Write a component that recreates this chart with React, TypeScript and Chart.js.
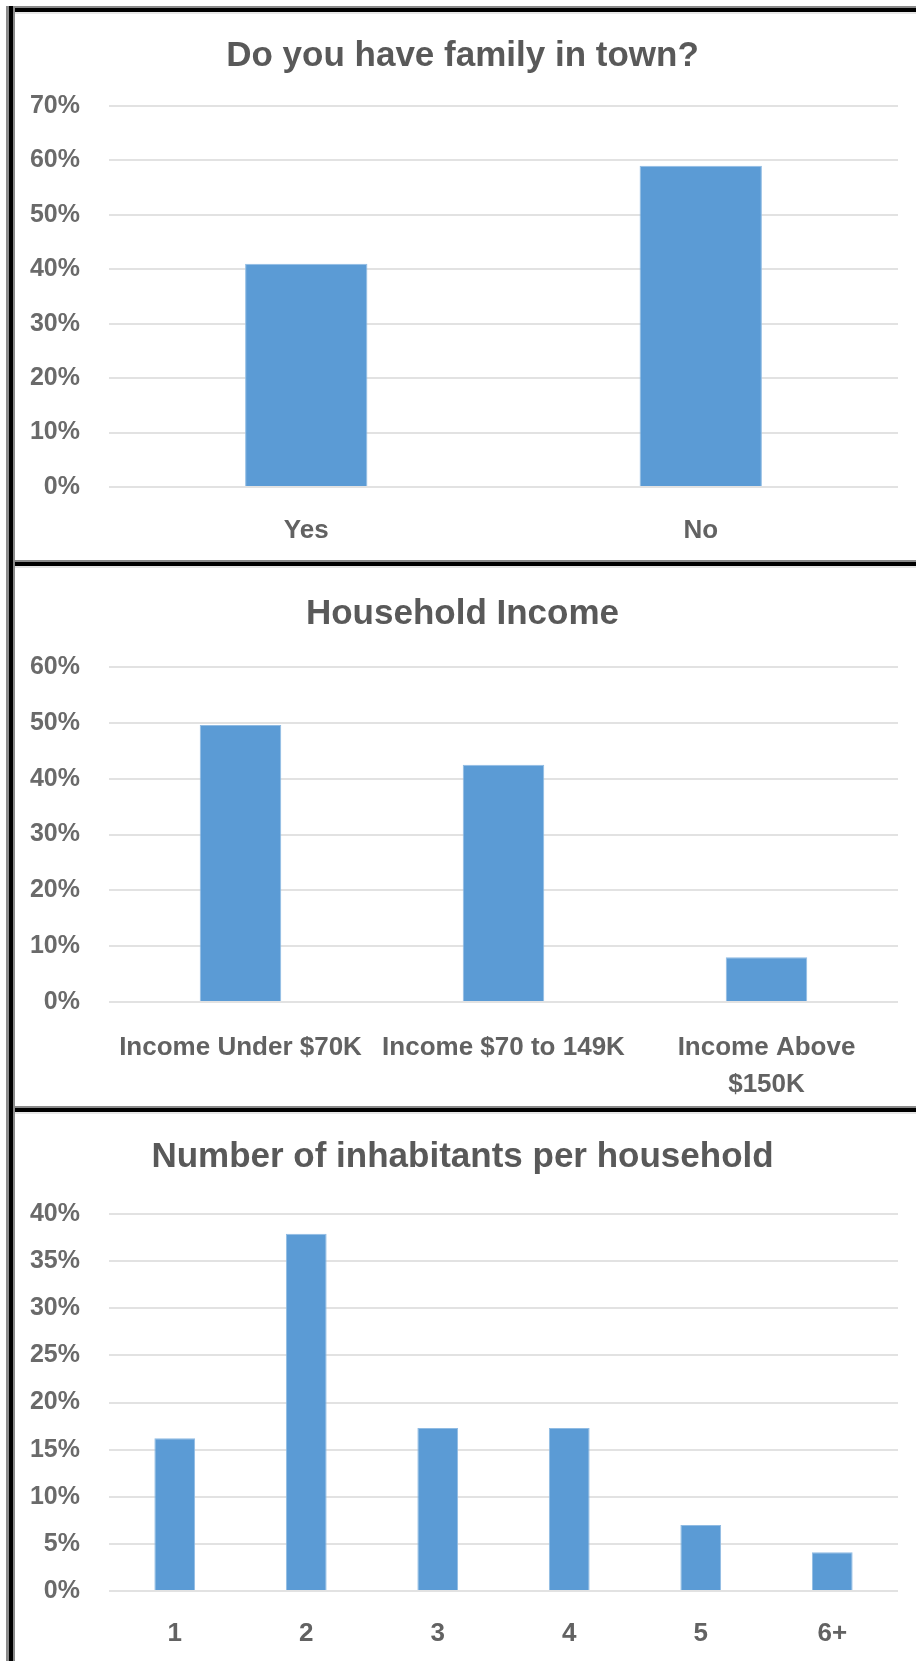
import React, { useEffect, useRef } from "react";
import { Chart, registerables } from "chart.js";

Chart.register(...registerables);

const FONT = "'Liberation Sans', Arial, sans-serif";

// Panel 1
const familyTitle = "Do you have family in town?";
const familyCategories = ["Yes", "No"];
const familyValues = [41, 59];
const familyTicks = [0, 10, 20, 30, 40, 50, 60, 70];

// Panel 2
const incomeTitle = "Household Income";
const incomeCategories: (string | string[])[] = [
  "Income Under $70K",
  "Income $70 to 149K",
  ["Income Above", "$150K"],
];
const incomeValues = [49.6, 42.5, 8];
const incomeTicks = [0, 10, 20, 30, 40, 50, 60];

// Panel 3
const inhabitantsTitle = "Number of inhabitants per household";
const inhabitantsCategories = ["1", "2", "3", "4", "5", "6+"];
const inhabitantsValues = [16.2, 37.9, 17.3, 17.3, 7.0, 4.1];
const inhabitantsTicks = [0, 5, 10, 15, 20, 25, 30, 35, 40];

type PanelProps = {
  title: string;
  labels: (string | string[])[];
  values: number[];
  ticks: number[];
  top: number;
  height: number;
  titlePadTop: number;
  titlePadBottom: number;
  xPad: number;
  xHeight: number;
};

const CANVAS_W = 901;

function BarPanel(props: PanelProps) {
  const ref = useRef<HTMLCanvasElement>(null);
  useEffect(() => {
    const ticks = props.ticks;
    const chart = new Chart(ref.current as HTMLCanvasElement, {
      type: "bar",
      data: {
        labels: props.labels,
        datasets: [
          {
            data: props.values,
            backgroundColor: "#5b9bd5",
            borderColor: "#8fbbe3",
            borderWidth: 1,
            barPercentage: 0.31,
            categoryPercentage: 1,
          },
        ],
      },
      options: {
        animation: false,
        responsive: false,
        maintainAspectRatio: false,
        devicePixelRatio: 1,
        layout: { padding: { left: 12, right: 18, top: 0, bottom: 0 } },
        plugins: {
          legend: { display: false },
          tooltip: { enabled: false },
          title: {
            display: true,
            text: props.title,
            color: "#595959",
            font: { family: FONT, size: 35, weight: "bold", lineHeight: 1.2 },
            padding: { top: props.titlePadTop, bottom: props.titlePadBottom },
          },
        },
        scales: {
          x: {
            grid: { display: false },
            border: { display: false },
            ticks: {
              color: "#626262",
              font: { family: FONT, size: 26, weight: "bold", lineHeight: 1.4 },
              padding: props.xPad,
              maxRotation: 0,
              minRotation: 0,
              autoSkip: false,
            },
            afterFit: (s: any) => {
              s.height = props.xHeight;
            },
          },
          y: {
            min: ticks[0],
            max: ticks[ticks.length - 1],
            grid: { color: "#e2e2e2", lineWidth: 2, drawTicks: false },
            border: { display: false },
            ticks: {
              color: "#6a6a6a",
              font: { family: FONT, size: 25, weight: "bold" },
              padding: 29,
              callback: (v: any) => v + "%",
            },
            afterFit: (s: any) => {
              s.width = 82;
            },
            afterBuildTicks: (axis: any) => {
              axis.ticks = ticks.map((value) => ({ value }));
            },
          },
        },
      } as any,
    });
    return () => chart.destroy();
  }, []);
  return (
    <canvas
      ref={ref}
      width={CANVAS_W}
      height={props.height}
      style={{
        position: "absolute",
        left: 15,
        top: props.top,
        width: CANVAS_W,
        height: props.height,
      }}
    />
  );
}

function HLine({ y }: { y: number }) {
  return (
    <>
      <div style={{ position: "absolute", left: 6, right: 0, top: y - 2, height: 2, background: "#8a8a8a" }} />
      <div style={{ position: "absolute", left: 6, right: 0, top: y, height: 4, background: "#000" }} />
      <div style={{ position: "absolute", left: 15, right: 0, top: y + 4, height: 2, background: "#e6e6e6" }} />
    </>
  );
}

export default function App() {
  return (
    <div
      style={{
        position: "absolute",
        left: 0,
        top: 0,
        width: 916,
        height: 1661,
        background: "#fff",
        overflow: "hidden",
      }}
    >
      <BarPanel
        title={familyTitle}
        labels={familyCategories}
        values={familyValues}
        ticks={familyTicks}
        top={12}
        height={548}
        titlePadTop={23}
        titlePadBottom={29}
        xPad={18}
        xHeight={73}
      />
      <BarPanel
        title={incomeTitle}
        labels={incomeCategories}
        values={incomeValues}
        ticks={incomeTicks}
        top={567}
        height={541}
        titlePadTop={26}
        titlePadBottom={32}
        xPad={20}
        xHeight={106}
      />
      <BarPanel
        title={inhabitantsTitle}
        labels={inhabitantsCategories}
        values={inhabitantsValues}
        ticks={inhabitantsTicks}
        top={1112}
        height={549}
        titlePadTop={24}
        titlePadBottom={36}
        xPad={17}
        xHeight={70}
      />
      <HLine y={8} />
      <HLine y={562} />
      <HLine y={1108} />
      <div style={{ position: "absolute", left: 6, top: 6, width: 9, bottom: 0, background: "#8a8a8a" }} />
      <div style={{ position: "absolute", left: 9, top: 6, width: 4, bottom: 0, background: "#000" }} />
    </div>
  );
}
